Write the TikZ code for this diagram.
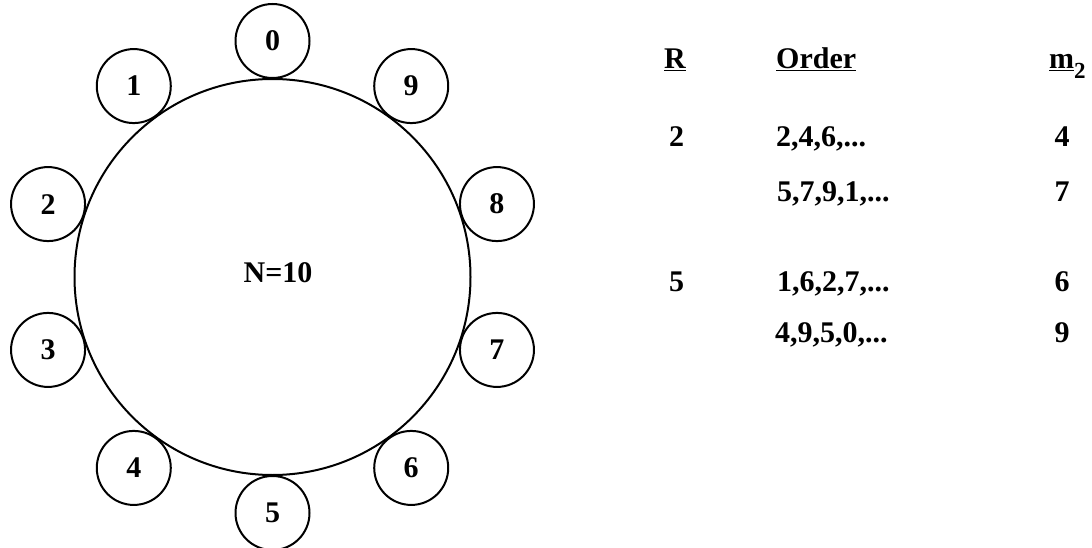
\documentclass[tikz,border=0pt]{standalone}
\usepackage{fontspec}
\setmainfont{Liberation Serif}
\usetikzlibrary{calc}
% underline drawn tight against the baseline
\newcommand\baseul[1]{\setbox0\hbox{#1}\rlap{\rule[-2.2pt]{\wd0}{1.6pt}}\box0}
\begin{document}
\begin{tikzpicture}[x=1pt,y=-1pt,
  hubring/.style={circle,draw,line width=2pt,minimum size=396pt,inner sep=0pt},
  station/.style={circle,draw,line width=2pt,fill=white,minimum size=74pt,inner sep=0pt,
    font=\fontsize{30}{30}\selectfont\bfseries},
  lbl/.style={font=\fontsize{30}{30}\selectfont\bfseries,inner sep=0pt}]
\useasboundingbox (0,0) rectangle (1092,548);
% central ring with its ten stations
\coordinate (c) at (272.5,277);
\node[hubring] (hub) at (c) {};
\node[lbl] (size) at (278,273) {N=10};
\foreach \i in {0,...,9}
  \node[station] (s\i) at ($(c)+({-90-36*\i}:236)$) {\i};
% table of step sizes
\node[lbl,anchor=base west] (hR) at (664,69) {\baseul{R}};
\node[lbl,anchor=base west] (hO) at (776,69) {\baseul{Order}};
\node[lbl,anchor=base west] (hM) at (1049,69) {\baseul{m}\raisebox{-10pt}{\fontsize{23}{23}\selectfont 2}};
\node[lbl,anchor=base west] (r1) at (669,147) {2};
\node[lbl,anchor=base west] (o1) at (776,147) {2,4,6,...};
\node[lbl,anchor=base] (m1) at (1062,147) {4};
\node[lbl,anchor=base west] (o2) at (777,202) {5,7,9,1,...};
\node[lbl,anchor=base] (m2) at (1062,202) {7};
\node[lbl,anchor=base west] (r3) at (669,291) {5};
\node[lbl,anchor=base west] (o3) at (777,291) {1,6,2,7,...};
\node[lbl,anchor=base] (m3) at (1062,291) {6};
\node[lbl,anchor=base west] (o4) at (775,342) {4,9,5,0,...};
\node[lbl,anchor=base] (m4) at (1062,342) {9};
\end{tikzpicture}
\end{document}
